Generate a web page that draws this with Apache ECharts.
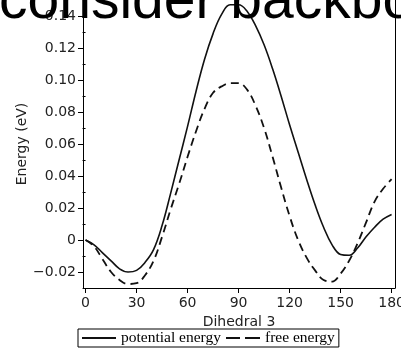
<!DOCTYPE html>
<html>
<head>
<meta charset="utf-8">
<script src="https://cdn.jsdelivr.net/npm/echarts@6/dist/echarts.min.js"></script>
<style>
  html, body { margin: 0; padding: 0; background: #fff; }
  #chart { width: 401px; height: 348px; }
</style>
</head>
<body>
<div id="chart"></div>
<script>
// dihedral angle samples (deg)
const dihedral = [0, 5, 10, 15, 20, 25, 30, 35, 40, 45, 50, 55, 60, 65, 70, 75, 80, 85, 90,
  95, 100, 105, 110, 115, 120, 125, 130, 135, 140, 145, 150, 155, 160, 165, 170, 175, 180];

// energies (eV)
const potentialEnergy = [0, -0.003, -0.008, -0.013, -0.018, -0.020, -0.019, -0.014, -0.006, 0.009,
  0.029, 0.050, 0.071, 0.093, 0.113, 0.129, 0.141, 0.147, 0.147, 0.143, 0.134, 0.122, 0.107,
  0.090, 0.072, 0.055, 0.038, 0.022, 0.008, -0.003, -0.009, -0.0095, -0.005, 0.002, 0.008,
  0.013, 0.016];
const freeEnergy = [0, -0.004, -0.012, -0.020, -0.025, -0.0275, -0.027, -0.022, -0.013, 0.002,
  0.019, 0.035, 0.052, 0.068, 0.082, 0.092, 0.096, 0.098, 0.098, 0.094, 0.084, 0.070, 0.052,
  0.033, 0.015, 0.000, -0.011, -0.019, -0.025, -0.026, -0.021, -0.013, -0.002, 0.011, 0.024,
  0.032, 0.038];

const xTicks = [0, 30, 60, 90, 120, 150, 180];
const yTicks = [-0.02, 0, 0.02, 0.04, 0.06, 0.08, 0.10, 0.12, 0.14];
const yMinorTicks = [-0.01, 0.01, 0.03, 0.05, 0.07, 0.09, 0.11, 0.13];

const seriesNames = ['potential energy', 'free energy'];
const overlayText = 'consider backbo';

const axisFont = 'DejaVu Sans';
const chart = echarts.init(document.getElementById('chart'));

const toPairs = (vals) => dihedral.map((d, i) => [d, vals[i]]);
const fmtY = (v) => {
  if (Math.abs(v) < 1e-9) return '0';
  const s = Math.abs(v).toFixed(2);
  return v < 0 ? '\u2212' + s : s;
};

const yBase = { type: 'value', min: -0.03, max: 0.15, splitLine: { show: false } };

const option = {
  animation: false,
  backgroundColor: '#fff',
  grid: { left: 83, right: 6, top: 0, bottom: 60, containLabel: false, outerBoundsMode: 'none' },
  xAxis: {
    type: 'value',
    min: -1.5,
    max: 182,
    name: 'Dihedral 3',
    nameLocation: 'middle',
    nameGap: 22,
    nameTextStyle: { fontFamily: axisFont, fontSize: 14, color: '#222' },
    axisLine: { onZero: false, lineStyle: { color: '#000', width: 1 } },
    axisTick: { customValues: xTicks, length: 5, lineStyle: { color: '#000' } },
    axisLabel: {
      customValues: xTicks,
      margin: 8,
      alignMinLabel: 'center',
      alignMaxLabel: 'center',
      hideOverlap: false,
      fontFamily: axisFont,
      fontSize: 14,
      color: '#222'
    },
    splitLine: { show: false }
  },
  yAxis: [
    Object.assign({}, yBase, {
      position: 'left',
      name: 'Energy (eV)',
      nameLocation: 'middle',
      nameGap: 54,
      nameMoveOverlap: false,
      nameTextStyle: { fontFamily: axisFont, fontSize: 14, color: '#222' },
      axisLine: { show: true, onZero: false, lineStyle: { color: '#000', width: 1 } },
      axisTick: { customValues: yTicks, length: 5, lineStyle: { color: '#000' } },
      axisLabel: {
        customValues: yTicks,
        margin: 7,
        formatter: fmtY,
        fontFamily: axisFont,
        fontSize: 14,
        color: '#222'
      }
    }),
    Object.assign({}, yBase, {
      position: 'left',
      axisLine: { show: false },
      axisTick: { customValues: yMinorTicks, length: 3, lineStyle: { color: '#000' } },
      axisLabel: { show: false }
    }),
    Object.assign({}, yBase, {
      position: 'right',
      axisLine: { show: true, onZero: false, lineStyle: { color: '#000', width: 1 } },
      axisTick: { show: false },
      axisLabel: { show: false }
    })
  ],
  legend: {
    show: true,
    type: 'plain',
    left: 78,
    bottom: 1,
    orient: 'horizontal',
    padding: [1, 4, 1, 4],
    itemGap: 5,
    itemWidth: 34,
    itemHeight: 2,
    borderColor: '#000',
    borderWidth: 1,
    textStyle: { fontFamily: 'Liberation Serif', fontSize: 15.5, color: '#000', lineHeight: 16 },
    data: [
      { name: seriesNames[0], icon: 'path://M0,0h34v2h-34z' },
      { name: seriesNames[1], icon: 'path://M0,0h14v2h-14zM19,0h15v2h-15z' }
    ]
  },
  series: [
    {
      name: seriesNames[0],
      type: 'line',
      data: toPairs(potentialEnergy),
      smooth: 0.4,
      symbol: 'none',
      lineStyle: { color: '#111', width: 1.6, type: 'solid' },
      itemStyle: { color: '#111' },
      z: 3
    },
    {
      name: seriesNames[1],
      type: 'line',
      data: toPairs(freeEnergy),
      smooth: 0.4,
      symbol: 'none',
      lineStyle: { color: '#111', width: 1.8, type: [8, 5] },
      itemStyle: { color: '#111' },
      z: 3
    }
  ],
  graphic: [
    {
      type: 'text',
      left: -1,
      top: -26,
      z: 100,
      style: {
        text: overlayText,
        font: '57px "Liberation Sans"',
        fill: '#000'
      }
    }
  ]
};

chart.setOption(option);
</script>
</body>
</html>
